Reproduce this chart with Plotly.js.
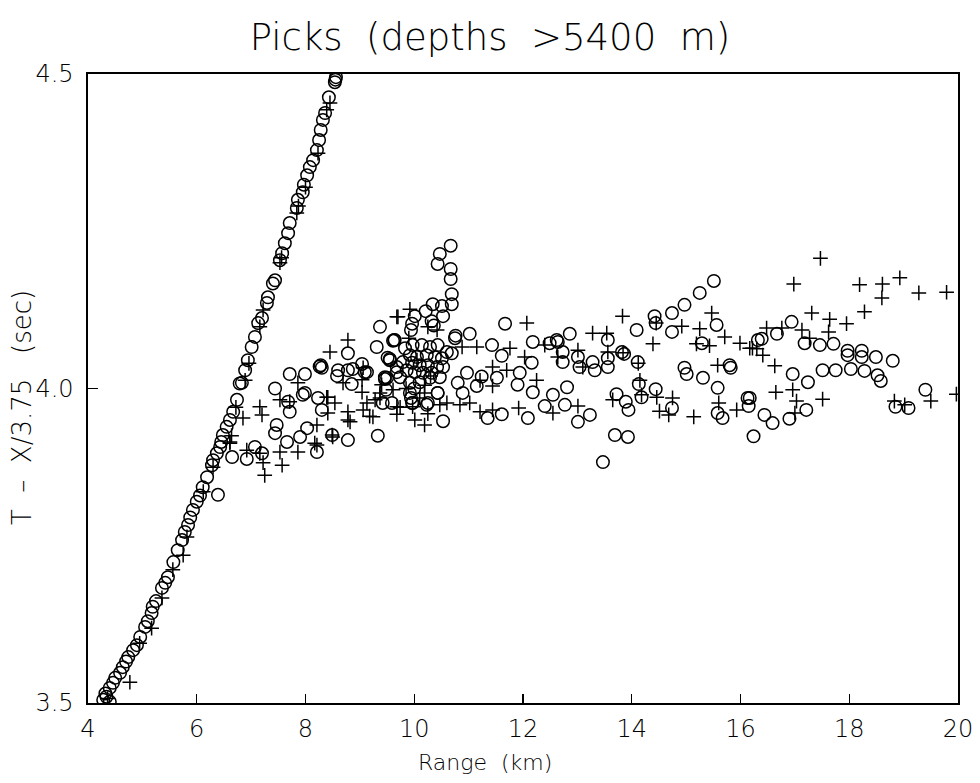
<!DOCTYPE html>
<html>
<head>
<meta charset="utf-8">
<script src="https://cdn.plot.ly/plotly-3.0.1.min.js"></script>
<style>
  html, body { margin: 0; padding: 0; background: #fff; }
  #chart { width: 980px; height: 783px; }
</style>
</head>
<body>
<div id="chart"></div>
<script>
// Direct arrivals along the steep branch (range in km, reduced time in s)
const directCircleRange = [4.28,4.32,4.34,4.40,4.40,4.46,4.50,4.59,4.64,4.70,4.74,4.83,4.90,4.96,5.05,5.10,5.17,5.19,5.25,5.36,5.42,5.47,5.57,5.65,5.73,5.78,5.84,5.88,5.93,6.00,6.06,6.11,6.19,6.28,6.30,6.37,6.43,6.45,6.48,6.55,6.61,6.67,6.74,6.79,
  6.83,6.89,6.94,7.01,7.07,7.13,7.20,7.29,7.31,7.40,7.44,7.53,7.57,7.62,7.68,7.71,7.84,7.86,7.95,7.97,8.03,8.08,8.14,8.21,8.25,8.28,8.32,8.36,8.43,8.54,8.55,8.56];
const directCircleTime = [3.505,3.515,3.510,3.524,3.502,3.532,3.540,3.548,3.557,3.566,3.573,3.584,3.592,3.605,3.621,3.630,3.643,3.653,3.662,3.683,3.691,3.700,3.724,3.743,3.759,3.772,3.783,3.795,3.807,3.820,3.830,3.843,3.859,3.878,3.886,3.897,3.907,3.915,3.926,3.939,3.950,3.963,3.982,4.008,
  4.009,4.029,4.045,4.066,4.082,4.104,4.112,4.136,4.145,4.167,4.172,4.204,4.215,4.231,4.247,4.263,4.287,4.300,4.312,4.324,4.339,4.352,4.363,4.379,4.395,4.411,4.427,4.438,4.463,4.487,4.491,4.495];
const directCrossRange = [4.36,4.77,4.95,5.17,5.36,5.56,5.75,5.82,6.12,6.30,6.61,6.64,6.72,
  6.89,6.96,7.16,7.22,7.53,7.56,7.84,7.87,8.00,8.23,8.39,8.45];
const directCrossTime = [3.507,3.533,3.595,3.619,3.667,3.712,3.735,3.764,3.836,3.875,3.915,3.925,3.970,
  4.013,4.040,4.098,4.125,4.200,4.208,4.279,4.290,4.320,4.374,4.443,4.454];

// Later arrivals scattered near 4.0 s
const laterCircleRange = [7.44,7.95,7.99,7.71,8.23,8.30,7.47,7.44,7.66,7.90,8.03,8.49,8.78,9.33,7.07,6.92,7.20,8.21,6.39,6.65,
  9.37,8.78,9.31,9.61,9.55,9.04,8.30,8.28,8.60,8.58,8.78,8.87,9.09,7.71,7.99,9.46,8.85,7.68,9.42,9.68,8.26,9.13,9.50,9.48,
  10.67,10.47,10.43,10.67,10.67,10.69,10.69,10.34,10.51,10.21,10.53,10.01,9.96,9.94,10.32,10.36,
  9.63,9.51,10.75,10.76,11.02,11.67,11.43,11.61,12.18,12.16,11.94,10.97,11.24,10.80,10.89,11.15,11.52,11.90,12.18,11.61,11.35,12.09,12.40,10.53,10.43,10.23,9.97,12.62,
  9.64,9.83,9.97,10.14,10.29,10.43,10.60,10.69,9.92,10.05,10.23,10.38,10.51,9.79,9.96,10.10,10.25,10.42,10.53,9.68,9.86,10.01,10.16,10.32,10.47,9.74,9.92,10.10,10.29,9.55,9.46,9.92,9.96,10.43,10.25,9.59,9.94,10.00,
  15.51,15.25,14.97,14.74,14.42,14.44,14.74,14.09,15.56,15.29,12.86,12.64,12.49,13.56,12.73,12.73,13.01,13.04,13.28,13.32,13.56,13.56,13.82,13.86,14.11,14.97,15.01,15.31,15.80,15.82,15.58,16.32,12.81,12.55,12.77,13.23,13.01,13.72,13.89,13.94,14.13,14.18,14.44,14.74,13.69,13.93,13.47,15.58,15.67,16.13,16.15,16.24,
  16.94,16.67,16.39,17.18,17.46,17.71,17.97,17.97,18.23,18.23,18.49,18.80,16.96,17.24,17.51,17.75,18.03,18.28,18.52,18.58,19.40,18.85,19.09,16.17,16.44,16.59,16.90,17.21];
const laterCircleTime = [4.000,3.990,3.993,3.963,3.985,3.966,3.942,3.929,3.915,3.923,3.937,3.926,3.918,3.925,3.907,3.888,3.897,3.899,3.831,3.891,
  4.098,4.056,4.066,4.076,4.047,4.039,4.033,4.037,4.029,4.020,4.029,4.031,4.026,4.023,4.023,4.015,4.007,3.979,3.977,4.026,4.035,4.026,4.017,3.998,
  4.227,4.214,4.198,4.190,4.174,4.150,4.134,4.134,4.131,4.123,4.115,4.115,4.103,4.093,4.107,4.100,
  4.077,4.049,4.080,4.084,4.087,4.103,4.069,4.052,4.074,4.041,4.025,4.025,4.019,4.009,3.993,4.004,4.017,4.006,3.994,3.959,3.953,3.953,3.972,3.948,3.993,3.974,3.977,4.077,
  4.077,4.064,4.069,4.069,4.066,4.069,4.058,4.056,4.053,4.050,4.053,4.050,4.048,4.042,4.041,4.037,4.037,4.034,4.034,4.034,4.029,4.026,4.025,4.025,4.018,4.018,4.009,4.010,4.017,4.045,4.018,3.993,3.977,3.993,3.977,3.977,3.985,4.000,
  4.171,4.152,4.133,4.120,4.115,4.104,4.090,4.093,4.101,4.072,4.087,4.074,4.072,4.077,4.058,4.042,4.050,4.034,4.042,4.029,4.048,4.034,4.058,4.055,4.042,4.033,4.023,4.017,4.037,4.033,4.001,4.077,4.002,3.990,3.974,3.958,3.947,3.991,3.979,3.966,4.007,3.986,3.999,3.969,3.926,3.923,3.883,3.961,3.953,3.985,3.972,3.924,
  4.106,4.087,4.079,4.072,4.069,4.071,4.060,4.053,4.060,4.050,4.050,4.044,4.023,4.010,4.029,4.029,4.031,4.028,4.021,4.012,3.998,3.971,3.969,3.985,3.958,3.945,3.952,3.966];

const laterCrossRange = [7.86,6.85,7.16,7.20,7.53,7.71,8.41,8.54,8.41,8.78,8.82,9.06,9.24,8.21,8.17,7.86,7.53,7.57,7.22,7.25,6.92,7.16,6.61,8.49,8.21,
  8.78,8.45,9.06,9.04,8.69,9.04,8.39,9.37,9.40,9.61,9.68,9.74,9.28,8.78,
  12.07,9.70,9.92,10.25,10.42,11.15,10.88,11.76,12.03,12.40,11.44,11.70,11.21,11.44,12.25,9.13,9.37,10.19,10.19,9.68,9.68,9.97,10.01,10.19,10.47,10.60,10.84,11.02,11.21,11.44,11.92,9.18,8.50,9.90,10.05,10.30,9.85,10.10,10.25,
  13.83,15.47,13.28,13.54,14.92,15.25,14.39,14.45,15.71,15.19,15.43,15.99,16.17,16.30,12.64,13.01,13.10,13.56,13.84,14.12,15.58,15.60,14.15,14.46,14.75,13.65,13.01,12.55,14.51,14.68,15.14,15.93,14.18,
  17.47,16.98,18.19,18.61,18.93,18.60,19.28,19.79,18.28,17.31,17.64,17.95,17.62,16.48,16.76,17.13,17.27,16.22,16.41,16.63,16.65,16.96,17.03,17.00,17.51,18.83,19.02,19.50,19.97];
const laterCrossTime = [4.009,3.953,3.971,3.958,3.982,3.979,3.986,3.977,3.961,3.963,3.947,3.966,3.955,3.942,3.913,3.899,3.899,3.878,3.882,3.862,3.902,3.897,3.913,3.926,3.910,
  4.077,4.058,4.033,4.014,4.009,3.994,3.986,3.993,4.006,3.998,4.114,3.970,3.982,3.950,
  4.104,4.114,4.126,4.098,4.093,4.066,4.066,4.064,4.050,4.069,4.034,4.029,4.013,4.004,4.013,3.977,3.985,4.005,3.993,3.971,3.959,3.971,3.950,3.942,3.974,3.977,3.974,3.977,3.963,3.966,3.969,3.956,3.923,4.080,4.045,4.020,4.000,3.985,3.960,
  4.115,4.120,4.088,4.088,4.099,4.095,4.071,4.104,4.082,4.071,4.068,4.072,4.064,4.063,4.050,4.061,4.034,4.058,4.057,4.040,4.037,3.977,4.013,3.986,3.985,3.982,3.972,3.961,3.964,3.958,3.955,3.966,3.990,
  4.207,4.166,4.165,4.166,4.176,4.144,4.152,4.153,4.122,4.120,4.110,4.103,4.090,4.096,4.096,4.093,4.080,4.064,4.053,4.036,3.994,3.998,3.980,3.961,3.983,3.980,3.974,3.980,3.991];

const rangeTicks = [4, 6, 8, 10, 12, 14, 16, 18, 20];
const timeTicks = [3.5, 4.0, 4.5];

const circleRange = directCircleRange.concat(laterCircleRange);
const circleTime = directCircleTime.concat(laterCircleTime);
const crossRange = directCrossRange.concat(laterCrossRange);
const crossTime = directCrossTime.concat(laterCrossTime);

const ink = '#000';
const fontFamily = '"DejaVu Sans", "Liberation Sans", sans-serif';

const traces = [
  {
    type: 'scatter', mode: 'markers', name: 'circles',
    x: circleRange, y: circleTime,
    marker: { symbol: 'circle-open', size: 12.5, color: ink, line: { width: 1.5, color: ink } }
  },
  {
    type: 'scatter', mode: 'markers', name: 'crosses',
    x: crossRange, y: crossTime,
    marker: { symbol: 'cross-thin-open', size: 10.5, color: ink, line: { width: 1.5, color: ink } }
  }
];

const axisCommon = {
  showgrid: false, zeroline: false,
  showline: true, linecolor: ink, linewidth: 1.6, mirror: true,
  ticks: 'inside', tickcolor: ink, tickwidth: 1.3,
  tickfont: { family: fontFamily, size: 24, color: ink, weight: 200 }
};

const layout = {
  width: 980, height: 783,
  paper_bgcolor: '#fff', plot_bgcolor: '#fff',
  margin: { l: 88, r: 22, t: 74, b: 80 },
  showlegend: false,
  title: {
    text: 'Picks  (depths  >5400  m)',
    x: 0.5, xref: 'container', xanchor: 'center',
    y: 0.953, yref: 'container', yanchor: 'middle',
    font: { family: fontFamily, size: 37, color: ink, weight: 200 }
  },
  xaxis: Object.assign({}, axisCommon, {
    range: [4, 20], tickvals: rangeTicks, ticklen: 9,
    ticklabelstandoff: 4
  }),
  yaxis: Object.assign({}, axisCommon, {
    range: [3.5, 4.5], tickvals: timeTicks, tickformat: '.1f', ticklen: 10,
    ticklabelstandoff: 8
  }),
  annotations: [
    {
      text: 'Range  (km)', xref: 'paper', yref: 'paper',
      x: 0.456, y: -0.095, xanchor: 'center', yanchor: 'middle', showarrow: false,
      font: { family: fontFamily, size: 22, color: ink, weight: 200 }
    },
    {
      text: 'T  –  X/3.75   (sec)', xref: 'paper', yref: 'paper',
      x: -0.075, y: 0.47, xanchor: 'center', yanchor: 'middle', showarrow: false,
      textangle: -90,
      font: { family: fontFamily, size: 26, color: ink, weight: 200 }
    }
  ]
};

Plotly.newPlot('chart', traces, layout, { displayModeBar: false, staticPlot: true });
</script>
</body>
</html>
